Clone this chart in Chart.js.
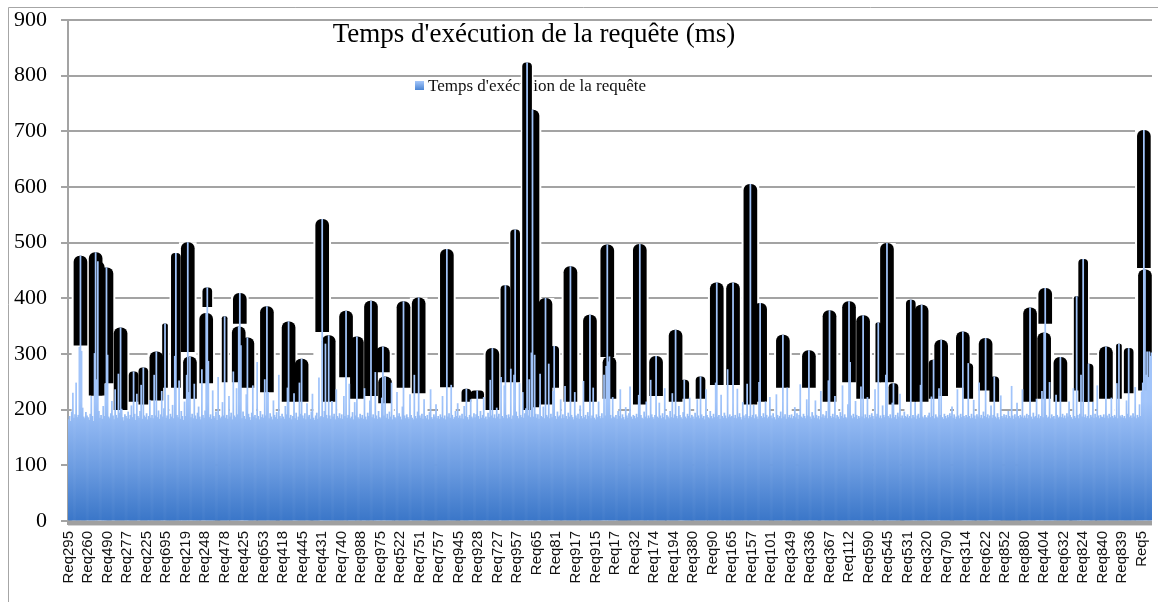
<!DOCTYPE html>
<html lang="fr">
<head>
<meta charset="utf-8">
<title>Temps d'exécution de la requête (ms)</title>
<script src="https://cdn.jsdelivr.net/npm/chart.js@4.4.1/dist/chart.umd.min.js"></script>
<style>
  html, body { margin: 0; padding: 0; background: #fff; }
  #wrap { position: relative; width: 1158px; height: 602px; }
</style>
</head>
<body>
<div id="wrap"><canvas id="chart" width="1158" height="602"></canvas></div>
<script>
// Axis labels shown every 18 requests
const tickLabels = [
  'Req295','Req260','Req490','Req277','Req225','Req695','Req219','Req248','Req478','Req425',
  'Req653','Req418','Req445','Req431','Req740','Req988','Req975','Req522','Req751','Req757',
  'Req945','Req928','Req727','Req957','Req65','Req81','Req917','Req915','Req17','Req32',
  'Req174','Req194','Req380','Req90','Req165','Req157','Req101','Req349','Req336','Req367',
  'Req112','Req590','Req545','Req531','Req320','Req790','Req314','Req622','Req852','Req880',
  'Req404','Req632','Req824','Req840','Req839','Req5'
];
const LABEL_STEP = 18;

// Execution time of each request (ms), 18 requests per row
const requestTimes = [
  182,188,179,196,230,185,191,248,186,190,312,476,305,203,187,184,195,189,
  186,181,192,224,188,179,301,482,254,466,197,185,190,183,206,188,246,455,
  298,187,184,193,215,189,182,236,190,185,264,194,347,201,186,180,191,188,
  184,196,183,190,207,186,268,192,181,228,188,185,197,244,183,275,189,186,
  193,182,188,217,185,190,184,262,189,304,186,198,183,191,233,187,202,354,
  185,189,226,183,192,187,208,184,296,481,190,186,252,183,197,188,181,214,
  188,262,500,231,295,186,192,184,246,189,183,194,205,187,182,272,190,185,
  198,373,419,287,186,191,183,234,188,185,196,181,258,190,184,187,213,189,
  367,185,190,183,224,187,194,182,268,189,186,238,191,349,409,315,184,196,
  188,183,227,329,192,186,181,194,243,187,190,184,285,188,182,197,186,191,
  185,254,189,385,231,184,193,187,182,216,190,186,195,183,262,188,184,192,
  187,183,206,191,239,358,185,190,182,188,229,184,194,181,187,248,192,291,
  189,184,193,182,211,187,190,183,196,228,185,181,189,194,183,257,186,188,
  542,186,197,318,190,184,333,189,183,215,187,192,182,236,188,185,193,184,
  191,183,224,188,377,185,190,246,184,187,195,182,213,189,331,186,183,192,
  185,190,183,238,187,182,194,188,216,395,186,191,184,267,189,183,197,186,
  184,221,313,189,259,185,192,183,196,187,248,182,190,186,184,231,188,193,
  187,182,205,394,189,184,191,186,183,227,190,185,182,262,188,184,196,401,
  189,185,192,183,218,188,184,190,182,195,236,186,183,191,187,209,184,188,
  183,191,186,224,184,189,182,488,187,193,185,244,190,183,186,197,188,211,
  185,189,184,192,183,206,188,237,186,182,190,218,187,184,193,186,191,234,
  188,183,197,185,190,222,184,187,182,194,186,253,189,310,185,191,184,203,
  187,192,183,258,188,185,243,423,190,184,191,186,273,183,189,262,523,196,
  188,184,247,190,186,231,185,193,202,823,189,254,186,302,738,187,298,192,
  185,191,183,264,188,186,205,184,400,190,187,282,184,192,186,233,314,188,
  183,196,187,189,218,184,191,185,242,188,183,194,187,457,190,186,182,231,
  189,185,192,183,207,188,184,251,186,190,183,195,188,370,184,189,239,185,
  182,191,186,214,188,184,193,185,262,189,278,496,286,295,190,184,222,187,
  185,190,183,197,188,236,184,191,186,182,204,189,185,193,241,187,183,190,
  188,184,192,186,226,497,190,185,183,196,187,214,184,189,185,253,191,186,
  183,190,296,187,185,212,189,184,193,186,238,182,190,187,184,197,186,229,
  185,191,343,188,184,206,190,186,183,195,253,187,184,192,188,221,185,190,
  187,183,194,186,218,189,184,259,191,185,188,182,236,190,186,184,197,188,
  184,192,186,248,428,187,190,183,226,188,185,194,189,184,272,187,191,186,
  188,428,185,190,184,237,187,193,186,182,213,189,185,191,246,184,188,605,
  186,190,208,184,191,187,183,249,391,188,185,193,186,214,190,184,187,222,
  189,184,193,186,182,227,190,185,188,196,184,334,187,191,183,239,186,190,
  185,191,184,188,204,186,193,183,190,245,187,185,192,188,184,218,189,306,
  187,183,195,189,185,216,190,184,188,182,233,186,191,185,189,197,184,252,
  378,188,185,192,186,224,184,190,187,183,195,188,243,185,191,186,184,209,
  394,285,189,184,192,186,215,190,183,188,185,241,187,369,184,191,186,222,
  184,190,186,193,188,183,236,187,192,356,185,189,184,207,190,186,262,499,
  188,185,191,184,212,247,186,190,183,194,187,228,185,189,184,196,188,186,
  191,185,188,397,184,190,186,213,183,189,192,185,244,388,187,184,190,186,
  185,189,194,186,223,188,289,184,191,187,185,238,190,325,186,183,192,188,
  184,190,186,193,188,205,185,191,183,187,236,189,184,192,186,340,188,185,
  190,186,283,188,184,192,185,217,189,183,191,187,248,185,190,184,196,188,
  328,186,191,184,189,207,185,190,259,187,184,193,186,182,225,188,185,191,
  186,190,184,197,188,185,242,189,183,191,186,212,188,184,190,187,236,185,
  189,185,192,184,190,383,187,183,194,186,188,219,185,191,184,188,233,186,
  338,418,190,185,187,249,184,191,186,188,183,226,190,185,187,294,186,192,
  185,189,184,193,187,214,190,186,183,238,188,185,403,190,184,192,262,187,
  470,186,191,185,188,282,184,190,187,213,185,192,186,243,189,184,190,187,
  186,191,185,313,189,184,192,186,221,188,185,190,187,247,184,318,189,186,
  190,185,188,184,216,192,310,186,189,185,193,187,240,184,190,186,209,188,
  232,248,702,451,262,304,258,304,296,302
];

// Peaks drawn with a dark contour: request index and the lower edge of the contour (ms)
const wideIdx  = [11,25,27,35,48,81,110,112,127,157,158,165,183,203,215,234,240,256,266,279,290,292,309,323,349,377,391,428,440,463,481,497,499,527,542,560,598,613,629,638,659,683,702,720,733,755,787,805,825,846,887,900,901,915,957,992,993];
const wideBase = [316,226,226,248,200,217,304,220,248,250,355,240,232,215,215,340,215,259,220,225,268,212,240,230,241,220,200,205,210,215,215,295,220,210,225,215,245,245,210,215,240,240,215,250,220,250,215,225,240,235,215,220,355,215,220,455,235];
const midIdx   = [60,69,99,128,367,403,412,423,448,568,583,761,777,798,830,854,936,941,978];
const midBase  = [215,210,240,385,215,250,250,200,240,220,220,210,215,220,220,215,215,215,230];
const thinIdx  = [89,144,747,930,969];
const thinBase = [240,250,250,235,220];

const categories = requestTimes.map((_, i) => i);

function contour(idx, base) {
  const data = new Array(requestTimes.length).fill(null);
  idx.forEach((k, j) => { data[k] = [base[j], requestTimes[k]]; });
  return data;
}
function clearance(idx) {
  const data = new Array(requestTimes.length).fill(null);
  idx.forEach(k => { data[k] = [0, requestTimes[k]]; });
  return data;
}

let barGradient = null;
function barFill(context) {
  const chart = context.chart;
  if (!chart.chartArea) return '#8db4ee';
  if (!barGradient) {
    const y = chart.scales.y;
    const g = chart.ctx.createLinearGradient(0, y.getPixelForValue(0), 0, y.getPixelForValue(215));
    g.addColorStop(0, '#3a76c8');
    g.addColorStop(0.45, '#6c9ce1');
    g.addColorStop(1, '#a1c4fa');
    barGradient = g;
  }
  return barGradient;
}

const frame = {
  id: 'frame',
  beforeDraw(chart) {
    const c = chart.ctx;
    c.save();
    c.fillStyle = '#fff';
    c.fillRect(0, 0, chart.width, chart.height);
    c.strokeStyle = '#a6a6a6';
    c.lineWidth = 1;
    c.beginPath();
    c.moveTo(8.5, chart.height);
    c.lineTo(8.5, 7.5);
    c.lineTo(chart.width, 7.5);
    c.stroke();
    c.restore();
  }
};

const seriesKey = {
  id: 'seriesKey',
  beforeDatasetsDraw(chart) {
    const c = chart.ctx;
    c.save();
    const g = c.createLinearGradient(0, 81, 0, 90);
    g.addColorStop(0, '#a6c8fb');
    g.addColorStop(1, '#4a84d4');
    c.fillStyle = g;
    c.fillRect(415, 81, 9, 9);
    c.fillStyle = '#111';
    c.font = '17px "Liberation Serif"';
    c.textBaseline = 'alphabetic';
    c.textAlign = 'left';
    c.fillText(chart.data.datasets[0].label, 428, 91);
    c.restore();
  }
};

const axisBand = {
  id: 'axisBand',
  afterDatasetsDraw(chart) {
    const c = chart.ctx;
    const { left, right, bottom } = chart.chartArea;
    c.save();
    c.fillStyle = '#a0a0a0';
    c.fillRect(left - 1, bottom, right - left + 1, 4);
    c.fillStyle = '#d4d4d4';
    c.fillRect(left, bottom + 4, right - left, 1);
    c.restore();
  }
};

const heading = {
  id: 'heading',
  afterDraw(chart) {
    const c = chart.ctx;
    c.save();
    c.fillStyle = '#000';
    c.font = '27px "Liberation Serif"';
    c.textAlign = 'center';
    c.textBaseline = 'alphabetic';
    c.fillText("Temps d'exécution de la requête (ms)", 534, 42);
    c.restore();
  }
};

const common = { grouped: false, borderWidth: 0 };

new Chart(document.getElementById('chart'), {
  type: 'bar',
  data: {
    labels: categories,
    datasets: [
      Object.assign({
        label: "Temps d'exécution de la requête",
        data: requestTimes,
        backgroundColor: barFill,
        barPercentage: 1,
        categoryPercentage: 1,
        order: 0
      }, common),
      Object.assign({ label: 'contour', data: contour(wideIdx, wideBase), backgroundColor: '#000', barThickness: 13, borderRadius: 6, borderSkipped: 'start', order: 1 }, common),
      Object.assign({ label: 'contour', data: contour(midIdx, midBase), backgroundColor: '#000', barThickness: 9, borderRadius: 4, borderSkipped: 'start', order: 2 }, common),
      Object.assign({ label: 'contour', data: contour(thinIdx, thinBase), backgroundColor: '#000', barThickness: 5, borderRadius: 2, borderSkipped: 'start', order: 3 }, common),
      Object.assign({ label: 'clearance', data: clearance(wideIdx), backgroundColor: '#fff', barThickness: 17, order: 4 }, common),
      Object.assign({ label: 'clearance', data: clearance(midIdx), backgroundColor: '#fff', barThickness: 12, order: 5 }, common),
      Object.assign({ label: 'clearance', data: clearance(thinIdx), backgroundColor: '#fff', barThickness: 8, order: 6 }, common)
    ]
  },
  options: {
    responsive: false,
    animation: false,
    devicePixelRatio: 1,
    layout: { padding: { top: 20, right: 6, bottom: 0, left: 0 } },
    plugins: {
      legend: { display: false },
      title: { display: false },
      tooltip: { enabled: false }
    },
    scales: {
      x: {
        type: 'category',
        grid: { display: false, drawTicks: false },
        border: { display: false },
        ticks: {
          autoSkip: false,
          minRotation: 90,
          maxRotation: 90,
          padding: 10,
          color: '#111',
          font: { family: 'Liberation Sans', size: 15 },
          callback: (value, index) => index % LABEL_STEP === 0 ? tickLabels[index / LABEL_STEP] : ''
        },
        afterFit(scale) { scale.height = 81; scale.paddingLeft = 0; scale.paddingRight = 0; }
      },
      y: {
        min: 0,
        max: 900,
        ticks: {
          stepSize: 100,
          padding: 14,
          color: '#000',
          font: { family: 'Liberation Serif', size: 22 }
        },
        grid: { color: '#a3a3a3', lineWidth: 2, tickLength: 7 },
        border: { color: '#a3a3a3', width: 2 },
        afterFit(scale) { scale.width = 68; scale.paddingTop = 0; scale.paddingBottom = 0; }
      }
    }
  },
  plugins: [frame, seriesKey, axisBand, heading]
});
</script>
</body>
</html>
